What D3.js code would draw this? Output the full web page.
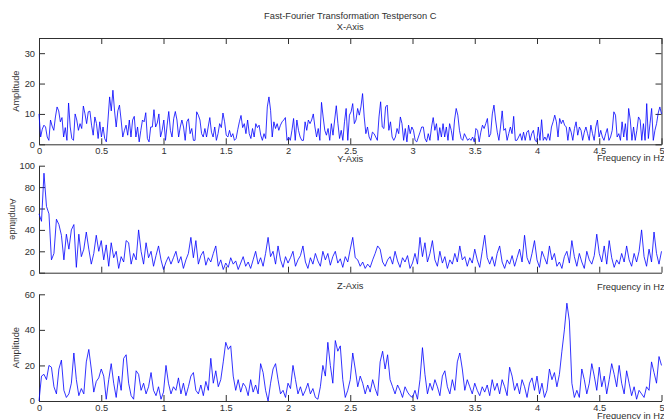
<!DOCTYPE html>
<html><head><meta charset="utf-8">
<script src="https://cdn.jsdelivr.net/npm/d3@7"></script>
<style>
html,body{margin:0;padding:0;background:#fff;}
svg{display:block;font-family:"Liberation Sans",Arial,sans-serif;}
</style></head><body>
<svg id="chart" width="664" height="419"></svg>
<script>
// ---- data ----
const chartTitle = "Fast-Fourier Transformation Testperson C";
const panelTitles = ["X-Axis", "Y-Axis", "Z-Axis"];
const xLabelText = "Frequency in Hz";
const yLabelText = "Amplitude";
const freqMax = 5;
const xTicks = [0, 0.5, 1, 1.5, 2, 2.5, 3, 3.5, 4, 4.5, 5];
const xTickLabels = ["0", "0.5", "1", "1.5", "2", "2.5", "3", "3.5", "4", "4.5", "5"];
const yTicksX = [0, 10, 20, 30];
const yTicksY = [0, 20, 40, 60, 80, 100];
const yTicksZ = [0, 20, 40, 60];
const yMaxes = [35, 100, 60];

// amplitude spectra, evenly spaced from 0 to 5 Hz
const ampX = [10,2.4,5,6.3,5.7,2.4,1.3,8,6,4.6,9,12.3,11,7.4,8.8,2.4,5.5,1.3,13.6,5.7,1.9,1.3,10,8,4.6,6.8,5.2,12.6,10,6.8,10.7,10.9,6.3,3,9,6.8,1.9,7.4,2.4,5.7,1.9,0.8,8,15.6,11,17.8,11,5.7,11,12.9,8,2.4,4.6,6.3,3,8,2.4,8,9.2,2.4,5.7,0.8,4.6,8,7.4,10.4,1.9,0.8,5.7,5.7,11.4,5.7,7,10,2.4,4.6,8,1.3,6.3,10.8,4.6,2.4,8.4,10.8,8,2.4,5.7,8,5.7,1.3,7.4,8.4,3.5,5.2,1.3,1.3,10.7,9.6,8,3.5,2.4,5.2,2.4,5.7,8.8,4,2.4,5.7,1.3,3.5,6.8,5.5,10.3,7.4,3,2.4,4.6,2.4,3.5,1.3,1.9,4.8,7.4,9.5,5.5,6.8,3.5,8,3.5,1.9,
  5.2,2.4,6.8,5.5,6.3,3,1.3,3.5,1.9,12.3,15.6,11.2,2.4,7.4,5.2,6.8,4.6,6.3,7.4,8,8.8,1.3,2.4,1.3,4.6,8.5,1.3,8,4.6,2.4,1.3,1.3,7.4,4.6,8,6.8,8,10,5.7,2.4,5.2,1.3,13.8,9,4.6,3,5.2,1.3,6.8,3,8,12.7,6.8,1.9,4.6,1.3,7.4,11.8,1.3,9.6,10.7,13.4,6.8,8,11.8,9.6,12.3,16.7,9,3.5,5.7,2.4,1.3,4,3.5,2.4,1.3,9,14,5.7,5.2,12.3,12.9,4.6,7.4,2.4,1.3,2.4,5.2,3.5,9,6.8,1.3,5.2,0.8,6.3,3.5,5.7,4.6,1.3,0.8,2.4,4,5.7,5.7,1.9,0.8,3.5,1.3,5.7,8.8,4.6,6.8,1.3,5.5,2.4,6.8,2.4,5.7,1.3,6.8,4.6,1.3,8,11.8,9.6,4.6,1.9,
  1.3,3.5,2.4,1.3,1.9,1.3,2.4,0.8,5.2,4.6,0.8,4,6.3,5.2,6.8,8.5,2.4,3.5,10,12.9,8,4,1.3,5.7,11,4.6,5.2,1.3,3.5,5.7,3.5,9.2,1.3,1.3,2.4,3.5,1.3,4,1.3,4,4.6,1.3,3.5,4.6,1.3,0.8,5.7,1.3,8.1,1.3,2.4,1.3,3.5,1.3,5.7,7.4,9.6,7.4,2.4,8.5,6.8,8,6.3,5.7,1.3,5.7,4,1.3,5.2,7.4,3,5.7,4.6,1.3,4,5.7,3.5,1.3,6.3,3.5,1.3,5.7,8,2.4,4.6,2.4,1.3,3.5,5.2,1.3,2.4,4.6,10.7,9.6,2.4,3.5,1.3,7.4,2.4,6.8,1.3,11.8,8,1.3,5.7,1.3,4.6,9,8,1.3,6.8,1.3,13.4,1.9,6.8,11.8,1.3,4.6,6.8,10.3,12.3,10];

const ampY = [55,48,93,62,55,12,18,50,45,35,12,36,22,40,45,5,36,15,22,38,22,8,18,35,20,30,12,26,6,28,14,20,4,15,10,30,28,8,18,12,40,20,8,28,14,20,6,16,25,12,
  3,10,15,8,14,20,9,15,4,12,18,33,14,30,8,16,20,7,14,10,18,25,6,12,3,9,5,14,8,11,3,9,15,6,10,4,12,20,8,14,6,18,33,15,20,8,25,12,5,15,
  9,14,20,6,12,16,25,10,4,14,8,18,11,6,20,12,18,7,15,20,9,13,5,15,10,22,33,14,12,6,10,4,8,5,12,18,25,22,10,6,12,15,8,20,11,5,14,10,16,4,
  9,18,8,33,15,28,10,18,30,12,6,20,9,15,4,12,8,18,10,25,12,15,6,14,9,22,12,5,20,35,14,8,15,6,18,25,10,4,12,8,16,6,14,22,10,35,14,8,18,30,
  12,5,20,14,8,25,12,18,6,10,4,15,20,9,30,15,6,18,10,4,20,12,8,16,36,18,10,25,8,30,14,5,12,8,18,10,25,12,6,18,10,20,40,15,6,22,10,38,18,8,20];

const ampZ = [0,14,15,12,20,19,8,4,18,23,6,2,4,10,27,12,3,7,4,22,29,18,5,11,13,18,14,1,12,21,10,2,14,6,24,26,10,3,1,17,15,6,10,4,8,16,6,3,8,1,
  5,20,10,4,8,6,13,4,10,3,8,14,16,6,4,9,3,11,6,24,10,17,8,12,22,33,29,31,14,6,12,5,10,8,3,12,5,9,4,21,16,6,0,10,18,21,12,4,6,2,
  10,7,20,12,4,8,3,6,10,4,7,2,1,8,20,14,33,20,10,34,28,31,12,2,6,12,27,18,8,14,10,4,9,5,12,7,3,22,28,18,26,12,8,4,9,6,2,8,5,3,
  2,6,1,12,30,15,4,10,6,12,8,3,14,17,8,4,12,6,22,27,18,6,12,8,4,10,6,3,8,5,9,3,12,6,10,4,12,8,3,19,14,6,10,4,12,8,2,10,13,6,
  14,4,10,2,6,18,12,16,8,15,28,40,55,45,10,2,6,2,18,12,4,10,21,14,6,19,8,14,4,12,21,15,8,20,10,4,17,10,3,8,1,6,4,2,8,6,22,16,10,25,20];

const series = [ampX, ampY, ampZ];
const yTickSets = [yTicksX, yTicksY, yTicksZ];

// ---- layout ----
const W = 664, H = 419;
const plotLeft = 39, plotRight = 661.5;
const panels = [
  {top: 38,    bottom: 144.3, box: true,  tickLabels: true,  titleY: 30,    xlabelY: 161,   ylabelX: 19,  ylabelRot: -90},
  {top: 165.7, bottom: 272.7, box: false, tickLabels: false, titleY: 162,   xlabelY: 289.5, ylabelX: 9.5, ylabelRot: 90},
  {top: 294.3, bottom: 401,   box: false, tickLabels: true,  titleY: 288.5, xlabelY: 419,   ylabelX: 19,  ylabelRot: -90}
];
const ink = "#303030";
const fontSize = 9.3;

const svg = d3.select("#chart");
svg.append("rect").attr("width", W).attr("height", H).attr("fill", "#fff");

const x = d3.scaleLinear().domain([0, freqMax]).range([plotLeft, plotRight]);

svg.append("text")
  .attr("x", (plotLeft + plotRight) / 2).attr("y", 19)
  .attr("text-anchor", "middle").attr("font-size", fontSize).attr("fill", ink)
  .text(chartTitle);

panels.forEach((p, k) => {
  const y = d3.scaleLinear().domain([0, yMaxes[k]]).range([p.bottom, p.top]);
  const g = svg.append("g");

  // bottom axis, ticks pointing inward
  const ax = d3.axisBottom(x).tickValues(xTicks).tickSize(-6).tickSizeOuter(0).tickPadding(3.5)
    .tickFormat((d, i) => p.tickLabels ? xTickLabels[i] : "");
  g.append("g").attr("transform", `translate(0,${p.bottom})`).call(ax);

  const ay = d3.axisLeft(y).tickValues(yTickSets[k]).tickSize(-6).tickSizeOuter(0).tickPadding(4)
    .tickFormat(d3.format("d"));
  g.append("g").attr("transform", `translate(${plotLeft},0)`).call(ay);

  if (p.box) {
    g.append("g").attr("transform", `translate(0,${p.top})`)
      .call(d3.axisTop(x).tickValues(xTicks).tickSize(-6).tickSizeOuter(0).tickFormat(""));
    g.append("g").attr("transform", `translate(${plotRight},0)`)
      .call(d3.axisRight(y).tickValues(yTickSets[k]).tickSize(-6).tickSizeOuter(0).tickFormat(""));
  }

  g.selectAll(".domain").attr("stroke", ink).attr("stroke-width", 1);
  g.selectAll(".tick line").attr("stroke", ink).attr("stroke-width", 1);
  g.selectAll(".tick text").attr("fill", ink).attr("font-size", fontSize)
    .attr("font-family", "Liberation Sans, Arial, sans-serif");

  // spectrum line
  const data = series[k];
  const step = freqMax / (data.length - 1);
  const line = d3.line().x((d, i) => x(i * step)).y(d => y(d));
  g.append("path").datum(data)
    .attr("d", line).attr("fill", "none")
    .attr("stroke", "#0000ff").attr("stroke-width", 0.8).attr("stroke-linejoin", "round");

  // panel title
  g.append("text")
    .attr("x", (plotLeft + plotRight) / 2).attr("y", p.titleY)
    .attr("text-anchor", "middle").attr("font-size", fontSize).attr("fill", ink)
    .text(panelTitles[k]);

  // x label at the right end of the axis
  g.append("text")
    .attr("x", 597).attr("y", p.xlabelY)
    .attr("font-size", fontSize).attr("fill", ink)
    .text(xLabelText);

  // y label
  const cy = (p.top + p.bottom) / 2;
  g.append("text")
    .attr("transform", `translate(${p.ylabelX},${cy}) rotate(${p.ylabelRot})`)
    .attr("text-anchor", "middle").attr("font-size", fontSize).attr("fill", ink)
    .text(yLabelText);
});
</script>
</body></html>
